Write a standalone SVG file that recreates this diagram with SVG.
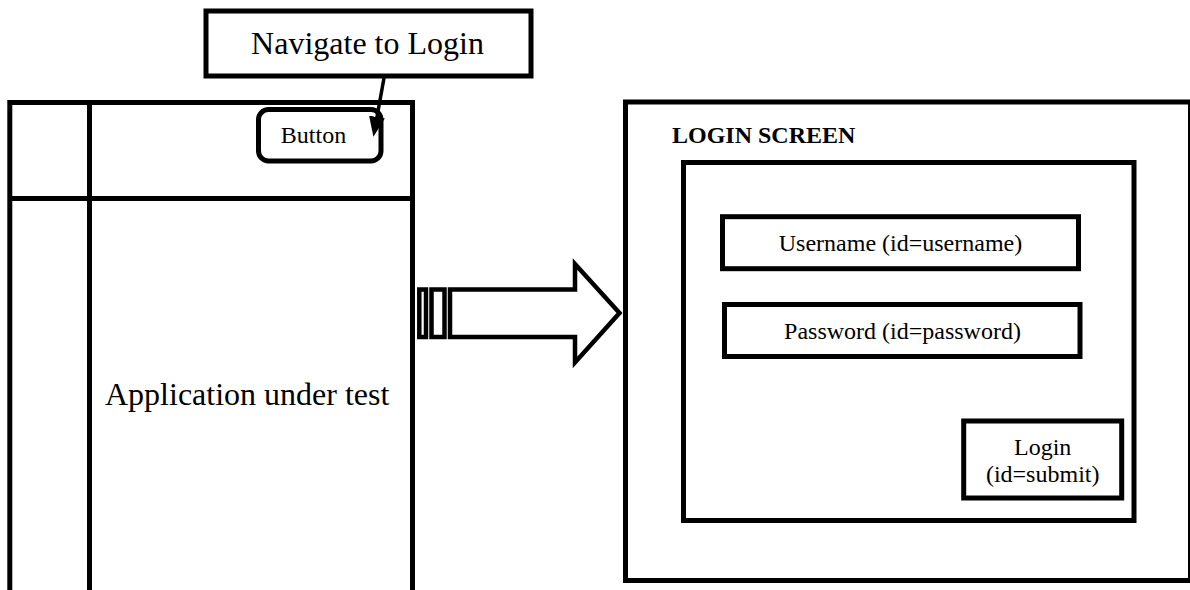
<svg xmlns="http://www.w3.org/2000/svg" width="1190" height="590" viewBox="0 0 1190 590">
<style>
.box{fill:#fff;stroke:#000;stroke-width:5}
.ln{fill:none;stroke:#000;stroke-width:5}
.t{font-family:"Liberation Serif","Times New Roman",serif;fill:#000}
</style>
<defs>
<marker id="ah" markerUnits="userSpaceOnUse" markerWidth="22" markerHeight="16" viewBox="0 0 22 16" refX="2" refY="8" orient="auto">
<path d="M0,0 L20,8 L0,16 z" fill="#000"/>
</marker>
</defs>
<rect width="1190" height="590" fill="#fff"/>
<g id="app">
<path class="ln" d="M9.8,600 V102.5 H412.5 V600"/>
<line class="ln" x1="89.5" y1="102.5" x2="89.5" y2="600"/>
<line class="ln" x1="9.8" y1="198.5" x2="412.5" y2="198.5"/>
<text class="t" x="105" y="405" font-size="32">Application under test</text>
</g>
<g id="button">
<rect class="box" x="258.5" y="109.5" width="122.5" height="51.5" rx="10"/>
<text class="t" x="313.5" y="143" font-size="24" text-anchor="middle">Button</text>
</g>
<g id="navigate">
<rect class="box" x="206" y="11" width="325" height="65" stroke-width="6"/>
<text class="t" x="367.5" y="54" font-size="32" text-anchor="middle">Navigate to Login</text>
</g>
<g id="login-screen">
<rect class="box" x="625.5" y="102" width="565" height="478.5"/>
<text class="t" x="672" y="143" font-size="24" font-weight="bold">LOGIN SCREEN</text>
<rect class="box" x="683.5" y="162.5" width="450.5" height="358"/>
</g>
<g id="username">
<rect class="box" x="722.5" y="216.7" width="356" height="52"/>
<text class="t" x="900.5" y="251" font-size="24" text-anchor="middle">Username (id=username)</text>
</g>
<g id="password">
<rect class="box" x="724.5" y="304.5" width="355.5" height="52"/>
<text class="t" x="902.5" y="339" font-size="24" text-anchor="middle">Password (id=password)</text>
</g>
<g id="login-button">
<rect class="box" x="963.7" y="421" width="158" height="77"/>
<text class="t" x="1042.7" y="455" font-size="24" text-anchor="middle">Login</text>
<text class="t" x="1042.7" y="482" font-size="24" text-anchor="middle">(id=submit)</text>
</g>
<g id="connectors">
<line x1="384" y1="78" x2="376.6" y2="119" stroke="#000" stroke-width="3.5" marker-end="url(#ah)"/>
<rect x="419.3" y="289.5" width="6.7" height="47.5" fill="#fff" stroke="#000" stroke-width="4.5"/>
<rect x="431.5" y="289.5" width="13" height="47.5" fill="#fff" stroke="#000" stroke-width="4.5"/>
<path d="M450,289.5 H575 V264 L619.5,313 L575,362.5 V337 H450 Z" fill="#fff" stroke="#000" stroke-width="4.5"/>
</g>
</svg>
